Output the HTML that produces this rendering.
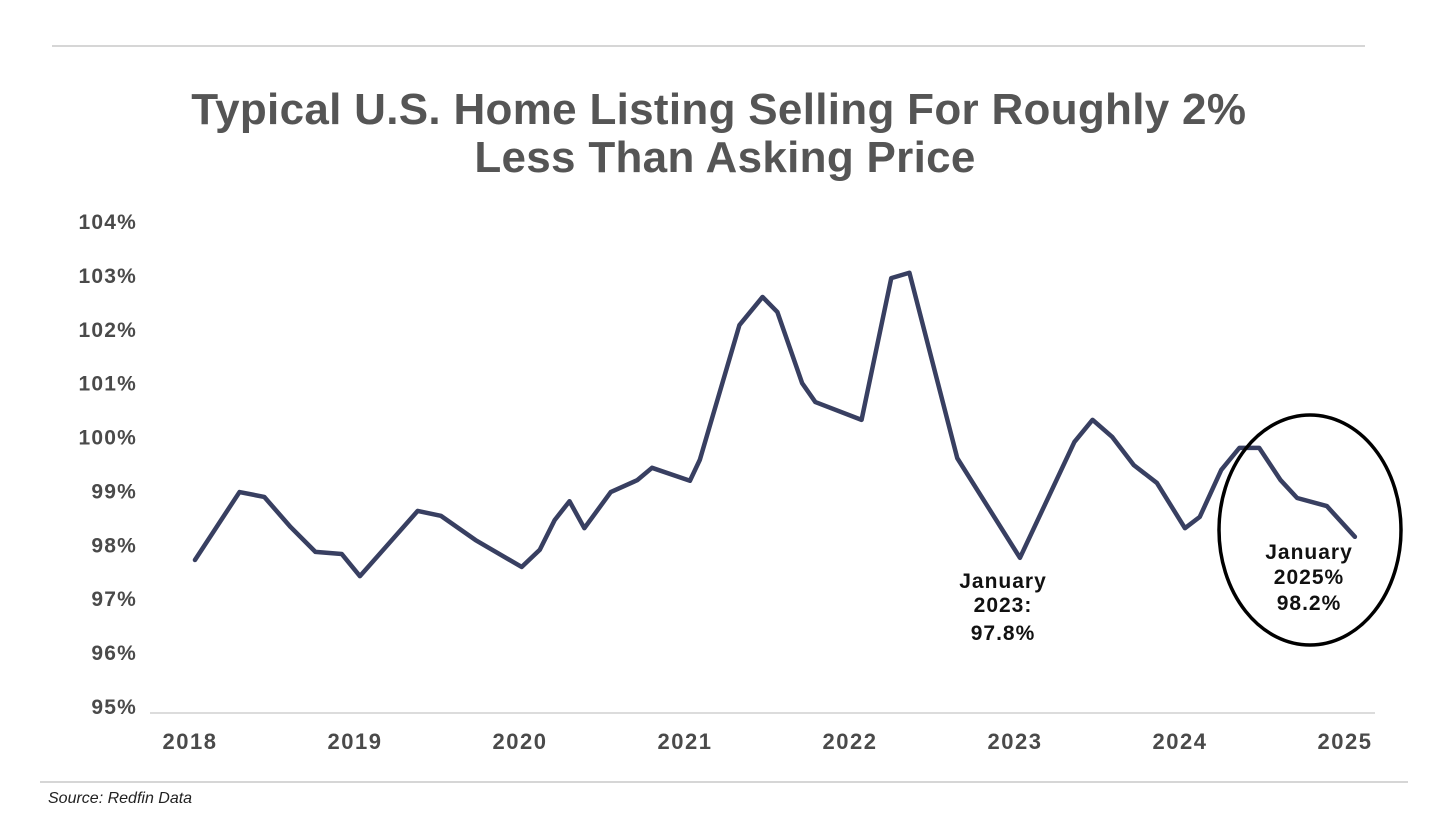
<!DOCTYPE html>
<html><head><meta charset="utf-8"><style>
body{margin:0;background:#fff;}
svg{display:block;font-family:"Liberation Sans",sans-serif;}
</style></head><body>
<svg id="chart" width="1456" height="819" viewBox="0 0 1456 819">
<rect width="1456" height="819" fill="#fff"/>
<line x1="52" y1="46" x2="1365" y2="46" stroke="#c8c8c8" stroke-width="1.5"/>
<text text-anchor="middle" font-size="44" font-weight="bold" fill="#555" letter-spacing="0.3">
<tspan x="725" y="124">Typical U.S. Home Listing Selling For Roughly 2%</tspan>
<tspan x="725" y="172">Less Than Asking Price</tspan></text>
<line x1="150" y1="713" x2="1375" y2="713" stroke="#d0d0d0" stroke-width="1.5"/>
<g id="yticks"></g><g id="xticks"></g>
<polyline id="line" fill="none" stroke="#383f61" stroke-width="4.5" stroke-linejoin="round" stroke-linecap="round"/>
<ellipse cx="1310" cy="530" rx="91" ry="115" fill="none" stroke="#000" stroke-width="3.5"/>
<text text-anchor="middle" font-size="21" font-weight="bold" fill="#111" letter-spacing="1">
<tspan x="1003" y="588">January</tspan><tspan x="1003" y="612">2023:</tspan><tspan x="1003" y="640">97.8%</tspan></text>
<text text-anchor="middle" font-size="21" font-weight="bold" fill="#111" letter-spacing="1">
<tspan x="1309" y="559">January</tspan><tspan x="1309" y="584">2025%</tspan><tspan x="1309" y="610">98.2%</tspan></text>
<line x1="40" y1="782" x2="1408" y2="782" stroke="#c8c8c8" stroke-width="1.5"/>
<text x="48" y="803" font-size="16" font-style="italic" fill="#222">Source: Redfin Data</text>
</svg>
<script>
const yTicks=[95,96,97,98,99,100,101,102,103,104];
const xYears=[2018,2019,2020,2021,2022,2023,2024,2025];
const dates=[2018.03,2018.30,2018.45,2018.61,2018.76,2018.92,2019.03,2019.38,2019.52,2019.73,2020.01,2020.12,2020.21,2020.30,2020.39,2020.55,2020.71,2020.80,2021.03,2021.09,2021.33,2021.47,2021.56,2021.71,2021.79,2022.07,2022.25,2022.36,2022.65,2023.03,2023.36,2023.47,2023.59,2023.72,2023.86,2024.03,2024.12,2024.25,2024.36,2024.48,2024.61,2024.71,2024.89,2025.06];
const values=[97.71,98.97,98.88,98.32,97.86,97.82,97.41,98.62,98.53,98.08,97.58,97.90,98.45,98.80,98.30,98.97,99.19,99.42,99.18,99.57,102.07,102.59,102.31,100.99,100.64,100.31,102.94,103.04,99.60,97.75,99.90,100.31,99.99,99.47,99.14,98.30,98.51,99.38,99.79,99.79,99.19,98.86,98.71,98.14];
const NS="http://www.w3.org/2000/svg";
const xs=d=>190+(d-2018)*165;
const ys=v=>221+(104-v)*53.89;
const yg=document.getElementById('yticks');
yTicks.forEach(t=>{const e=document.createElementNS(NS,'text');


e.setAttribute('x',137);e.setAttribute('y',ys(t)+8);e.setAttribute('text-anchor','end');
e.setAttribute('font-size','21');e.setAttribute('font-weight','bold');e.setAttribute('fill','#4a4a4a');e.setAttribute('letter-spacing','1.2');
e.textContent=t+'%';yg.appendChild(e);});
const xg=document.getElementById('xticks');
xYears.forEach(t=>{const e=document.createElementNS(NS,'text');


e.setAttribute('x',xs(t));e.setAttribute('y',749);e.setAttribute('text-anchor','middle');
e.setAttribute('font-size','22');e.setAttribute('font-weight','bold');e.setAttribute('fill','#4a4a4a');e.setAttribute('letter-spacing','1.5');
e.textContent=t;xg.appendChild(e);});
document.getElementById('line').setAttribute('points',dates.map((d,i)=>xs(d)+','+ys(values[i])).join(' '));
</script>
</body></html>
